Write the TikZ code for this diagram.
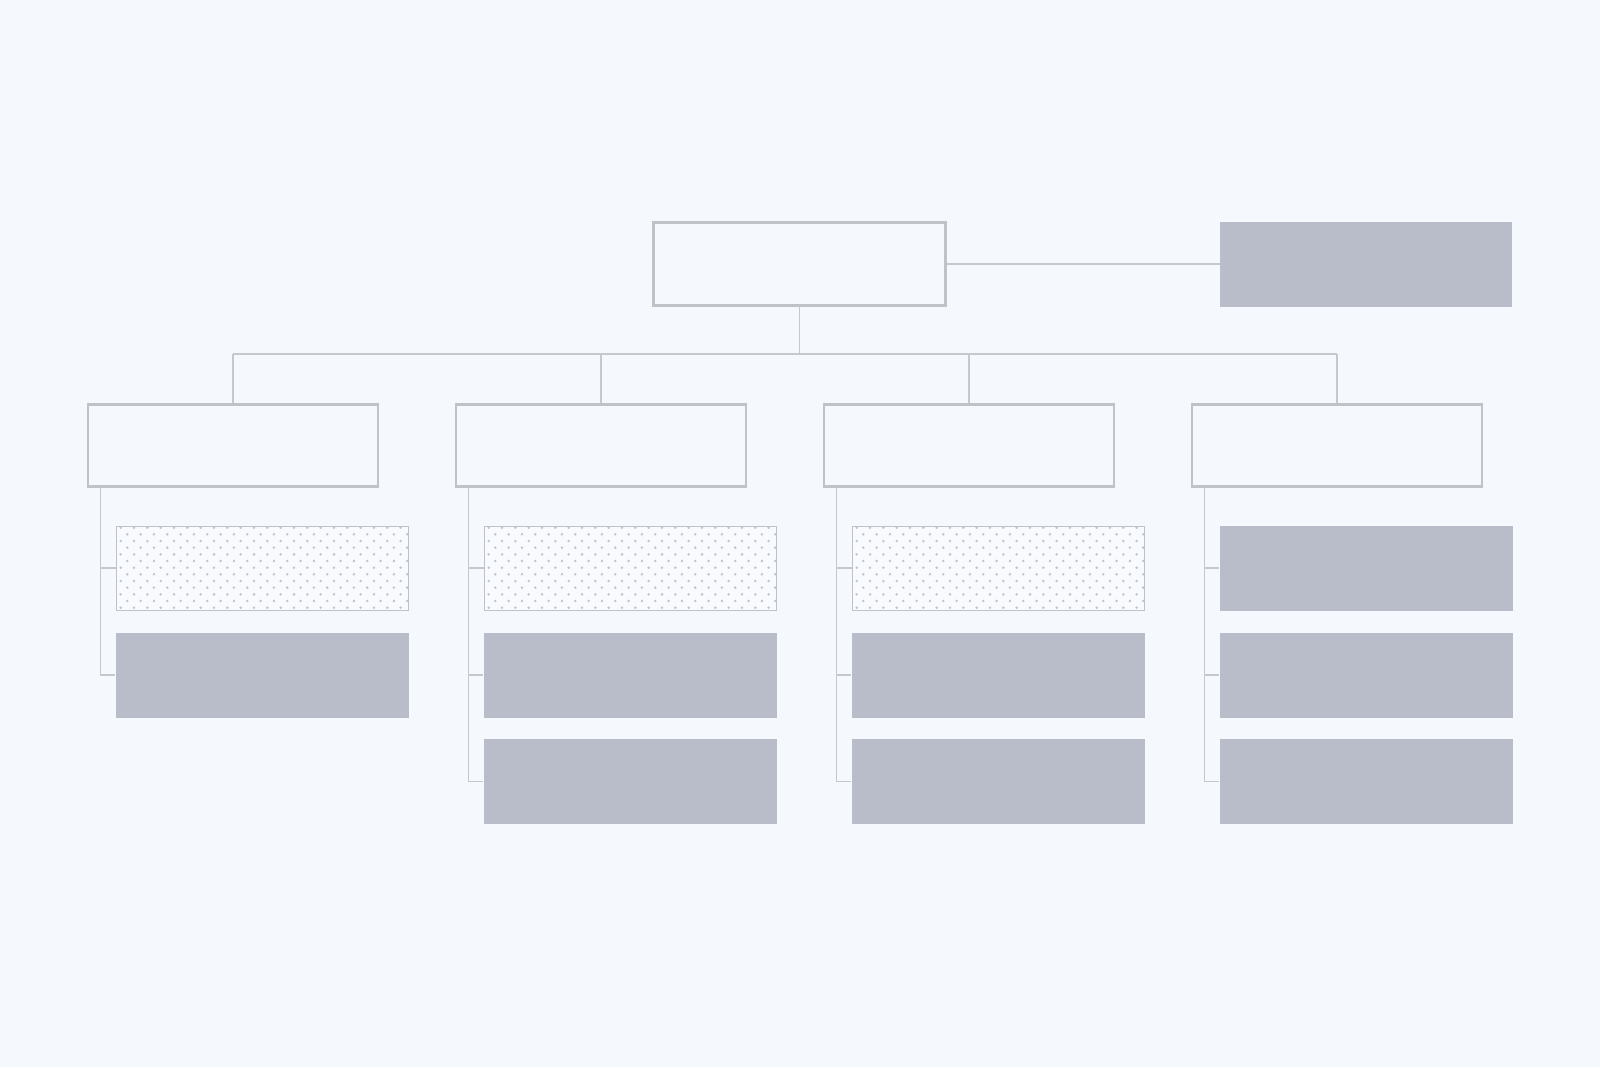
\documentclass[tikz,border=0pt]{standalone}
\usepackage{tikz}
\usetikzlibrary{positioning}
\definecolor{pagebg}{HTML}{F5F8FC}
\definecolor{fillgray}{HTML}{B8BDC9}
\definecolor{boxgray}{HTML}{BEC2C9}
\definecolor{linegray}{HTML}{C5C9CF}
\definecolor{dotgray}{HTML}{BFC5CF}
\definecolor{dotbg}{HTML}{F8FAFD}
\tikzset{link/.style={draw=linegray, line width=0.65pt},
headbox/.style={draw=boxgray, line width=1.25pt, fill=pagebg, minimum width=145pt, minimum height=41pt, inner sep=0pt},
greybox/.style={fill=fillgray, minimum width=146.5pt, minimum height=42.5pt, inner sep=0pt},
%staggered dots inside the box
dotbox/.style={draw=boxgray, line width=0.5pt, fill=dotbg, minimum width=146pt, minimum height=42pt, inner sep=0pt,
  path picture={\foreach \i in {0,...,21} \foreach \j in {0,...,6} {
    \fill[dotgray] ([shift={(\i*13.33+4.7,\j*13.33+1.7)}]path picture bounding box.north west) circle (0.7pt);
    \fill[dotgray] ([shift={(\i*13.33+11.3,\j*13.33+8.3)}]path picture bounding box.north west) circle (0.7pt);}}}}

\begin{document}
\begin{tikzpicture}[x=0.5pt, y=-0.5pt]
\fill[pagebg] (0,0) rectangle (1600,1067);

% top row
\node[headbox, minimum width=146pt, minimum height=41.5pt] (top) at (799.5,264) {};
\node[greybox, minimum width=146pt] (side) at (1366,264) {};
\draw[link] (top.east) -- (side.west);

% second row
\coordinate (bar) at (0,354);
\foreach \n/\x in {1/233,2/601,3/969,4/1337}
     \node[headbox] (c\n) at (\x,445.5) {};
\draw[link] (top.south) -- (top.south |- bar);
\draw[link] (c1.north |- bar) -- (c4.north |- bar);
\foreach \n in {1,...,4}
     \draw[link] (c\n.north) -- (c\n.north |- bar);

%sub boxes
\foreach \n in {1,2,3}
     \node[dotbox] (c\n a) at ([shift={(29,0)}]c\n |- 0,568) {};
\node[greybox] (c4a) at ([shift={(29,0)}]c4 |- 0,568) {};
\foreach \n in {1,...,4}
     \node[greybox] (c\n b) at ([shift={(29,0)}]c\n |- 0,675) {};
\foreach \n in {2,3,4}
     \node[greybox] (c\n c) at ([shift={(29,0)}]c\n |- 0,781.5) {};

% spines
\foreach \n in {1,...,4}
     \coordinate (sp\n) at ([shift={(13.5,0)}]c\n.south west);
\draw[link] (sp1) |- (c1a.west);
\draw[link] (sp1) |- (c1b.west);
\foreach \n in {2,3,4} {
     \draw[link] (sp\n) |- (c\n a.west);
     \draw[link] (sp\n) |- (c\n b.west);
     \draw[link] (sp\n) |- (c\n c.west);
}
\end{tikzpicture}
\end{document}
